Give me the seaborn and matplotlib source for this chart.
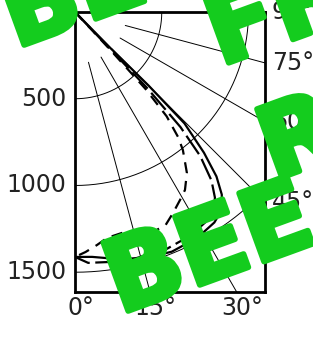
import numpy as np
import matplotlib
matplotlib.use("Agg")
import matplotlib.pyplot as plt
import matplotlib.patheffects as pe
import seaborn as sns

# ── data (polar: angle measured from the downward vertical, in degrees) ──────
solid_theta = [44.5, 44.5, 45.0, 44.5, 42.5, 40.7, 38.8, 36.6, 33.5, 28.5, 22.0, 15.5, 9.0, 4.0, 0.0]
solid_r     = [0, 300, 600, 900, 1100, 1250, 1350, 1420, 1455, 1480, 1490, 1475, 1440, 1415, 1412]

long_theta  = [43.5, 43.5, 43.5, 42.5, 41.0, 39.0, 37.0, 35.0, 32.0, 27.5, 21.0, 14.0, 8.0, 3.0, 0.0]
long_r      = [0, 300, 600, 900, 1100, 1250, 1340, 1395, 1425, 1450, 1465, 1462, 1455, 1448, 1412]

short_theta = [43.0, 43.0, 42.5, 41.3, 39.5, 38.0, 34.8, 31.7, 29.2, 26.0, 23.0, 19.5, 16.5, 14.0, 12.0, 8.1, 5.4, 2.5, 0.0]
short_r     = [0, 300, 600, 800, 934, 1010, 1130, 1206, 1241, 1289, 1335, 1345, 1325, 1305, 1302, 1315, 1349, 1385, 1412]

grid_radii    = [500, 1000, 1500]
radius_labels = ["500", "1000", "1500"]
spoke_angles  = [15, 30, 45, 60, 75]
spoke_start   = 300
bottom_angles = [0, 15, 30]
right_angles  = [45, 60, 75, 90]

XMAX, YMAX = 1095, 1614

# ── style ────────────────────────────────────────────────────────────────────
sns.set_style("white")
plt.rcParams["font.family"] = ["DejaVu Sans"]
TEXT  = "#222222"
GREEN = "#14cc1e"
FS    = 17


def to_xy(theta, r):
    t = np.radians(np.asarray(theta, dtype=float))
    r = np.asarray(r, dtype=float)
    return r * np.sin(t), r * np.cos(t)


fig = plt.figure(figsize=(3.13, 3.39), dpi=100, facecolor="white")
ax = fig.add_axes([75 / 313, 47 / 339, 190 / 313, 280 / 339])
ax.set_xlim(0, XMAX)
ax.set_ylim(YMAX, 0)
ax.set_xticks([])
ax.set_yticks([])
for s in ax.spines.values():
    s.set_color("black")
    s.set_linewidth(2.0)

# polar grid: arcs and spokes
arc_t = np.linspace(0, 90, 200)
for rr in grid_radii:
    gx, gy = to_xy(arc_t, np.full_like(arc_t, rr))
    ax.plot(gx, gy, color="black", lw=0.7)
for a in spoke_angles:
    gx, gy = to_xy([a, a], [spoke_start, 4000])
    ax.plot(gx, gy, color="black", lw=0.7)

# curves
for th, rr, ls in [
    (solid_theta, solid_r, "-"),
    (long_theta, long_r, (0, (10, 2.5))),
    (short_theta, short_r, (0, (5, 3.5))),
]:
    cx, cy = to_xy(th, rr)
    sns.lineplot(x=cx, y=cy, sort=False, estimator=None, color="black",
                 lw=1.6, linestyle=ls, ax=ax)

# radius labels on the left
for rr, lab in zip(grid_radii, radius_labels):
    ax.annotate(lab, xy=(0, rr), xycoords="data", xytext=(-6, 0),
                textcoords="offset points", ha="right", va="center",
                fontsize=FS, color=TEXT, annotation_clip=False)

# angle labels along the bottom
for a in bottom_angles:
    ax.annotate(f"{a}°", xy=(YMAX * np.tan(np.radians(a)), YMAX), xycoords="data",
                xytext=(4, -3), textcoords="offset points", ha="center", va="top",
                fontsize=FS, color=TEXT, annotation_clip=False)

# angle labels along the right
for a in right_angles:
    yy = 0 if a == 90 else XMAX / np.tan(np.radians(a))
    ax.annotate(f"{a}°", xy=(XMAX, yy), xycoords="data", xytext=(5, 0),
                textcoords="offset points", ha="left", va="center",
                fontsize=FS, color=TEXT, annotation_clip=False)

# green overlay words
for word, px, py in [
    ("BEE", 106, -14),
    ("FREE", 343, -8),
    ("RE", 332, 130),
    ("BEE", 210, 252),
]:
    fig.text(px / 313, 1 - py / 339, word, fontsize=72, fontweight="bold",
             color=GREEN, rotation=20, rotation_mode="anchor",
             ha="center", va="center", zorder=10,
             path_effects=[pe.withStroke(linewidth=4, foreground=GREEN)])

fig.savefig("out.png", dpi=100, facecolor="white")
